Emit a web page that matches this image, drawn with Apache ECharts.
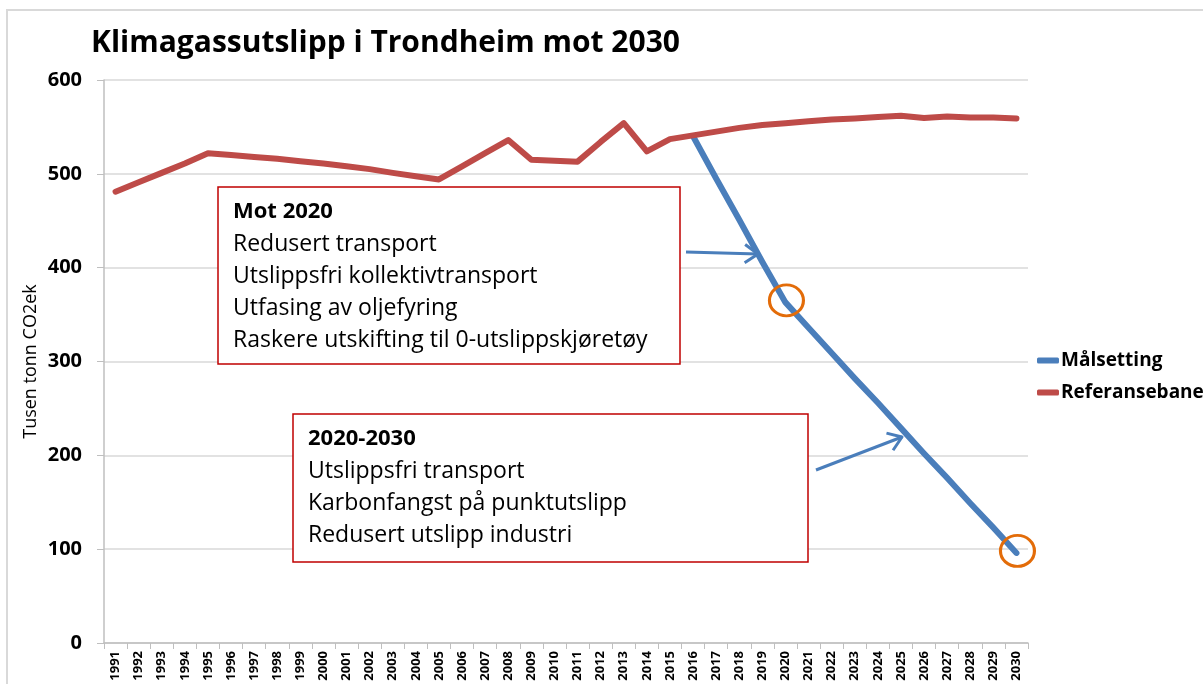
<!DOCTYPE html>
<html>
<head>
<meta charset="utf-8">
<script src="https://cdn.jsdelivr.net/npm/echarts@6/dist/echarts.min.js"></script>
<style>
  html, body { margin: 0; padding: 0; background: #fff; }
  #chart { width: 1203px; height: 684px; }
</style>
</head>
<body>
<div id="chart"></div>
<script>
// år 1991-2030
var years = [];
for (var y = 1991; y <= 2030; y++) years.push(String(y));

// Referansebane (tusen tonn CO2ek)
var referanse = [
  481, 491, 501, 511, 522, 520, 518, 516, 513.5, 511,
  508, 505, 501, 497.5, 494, 508, 522, 536, 515, 514,
  513, 534, 554, 524, 537, 541, 545, 549, 552, 554,
  556, 558, 559, 560.5, 562, 559.5, 561, 560, 560, 559
];

// Målsetting, starter i 2016
var malsetting = [
  null, null, null, null, null, null, null, null, null, null,
  null, null, null, null, null, null, null, null, null, null,
  null, null, null, null, null, 540, 495, 451, 406, 363,
  336, 309, 282, 256, 229, 202, 176, 149, 123, 96
];

var yTicks = [0, 100, 200, 300, 400, 500, 600];

var box1 = ["Redusert transport", "Utslippsfri kollektivtransport", "Utfasing av oljefyring", "Raskere utskifting til 0-utslippskjøretøy"];
var box2 = ["Utslippsfri transport", "Karbonfangst på punktutslipp", "Redusert utslipp industri"];

var font = "'Open Sans', 'Noto Sans', sans-serif";
var blue = "#4a7ebb";
var red = "#be4b48";
var orange = "#e36c09";

// pil med åpen spiss
function arrow(x1, y1, x2, y2) {
  var dx = x2 - x1, dy = y2 - y1;
  var len = Math.sqrt(dx * dx + dy * dy);
  var ax = -dx / len, ay = -dy / len;
  var t = 35 * Math.PI / 180, s = 16;
  var w1 = [x2 + s * (ax * Math.cos(t) - ay * Math.sin(t)), y2 + s * (ax * Math.sin(t) + ay * Math.cos(t))];
  var w2 = [x2 + s * (ax * Math.cos(t) + ay * Math.sin(t)), y2 + s * (-ax * Math.sin(t) + ay * Math.cos(t))];
  return {
    type: "group",
    children: [
      { type: "polyline", z: 110, shape: { points: [[x1, y1], [x2, y2]] }, style: { stroke: blue, lineWidth: 3, fill: null } },
      { type: "polyline", z: 110, shape: { points: [w1, [x2, y2], w2] }, style: { stroke: blue, lineWidth: 3, fill: null, lineJoin: "round" } }
    ]
  };
}

function textBox(x, y, w, h, header, lines) {
  var children = [
    { type: "rect", z: 100, shape: { x: x, y: y, width: w, height: h }, style: { fill: "#fff", stroke: "#c00000", lineWidth: 1.5 } },
    { type: "text", z: 101, x: x + 15, y: y + 25, style: { text: header, font: "bold 22px " + font, fill: "#000", textVerticalAlign: "middle" } }
  ];
  lines.forEach(function (l, i) {
    children.push({ type: "text", z: 101, x: x + 15, y: y + 57 + i * 32.3, style: { text: l, font: "23px " + font, fill: "#000", textVerticalAlign: "middle" } });
  });
  return { type: "group", children: children };
}

var chart = echarts.init(document.getElementById("chart"));
var option = {
  animation: false,
  title: {
    text: "Klimagassutslipp i Trondheim mot 2030",
    left: 86,
    top: 23,
    textStyle: { fontFamily: font, fontSize: 30, fontWeight: "bold", color: "#000" }
  },
  legend: {
    orient: "vertical",
    left: 1032,
    top: 346,
    itemGap: 13,
    itemWidth: 22,
    itemHeight: 6,
    icon: "roundRect",
    textStyle: { fontFamily: font, fontSize: 19, fontWeight: "bold", color: "#000", padding: [0, 0, 0, -3] },
    data: ["Målsetting", "Referansebane"]
  },
  grid: { left: 104, right: 175, top: 80, bottom: 41, containLabel: false },
  xAxis: {
    type: "category",
    data: years,
    boundaryGap: true,
    axisLine: { lineStyle: { color: "#bfbfbf", width: 1.5 } },
    axisTick: { show: true, length: 6, lineStyle: { color: "#bfbfbf" } },
    axisLabel: { rotate: 90, margin: 8, interval: 0, fontFamily: font, fontSize: 13, fontWeight: "bold", color: "#000" }
  },
  yAxis: {
    type: "value",
    min: yTicks[0],
    max: yTicks[yTicks.length - 1],
    interval: 100,
    name: "Tusen tonn CO2ek",
    nameLocation: "middle",
    nameRotate: 90,
    nameGap: 64,
    nameMoveOverlap: false,
    nameTextStyle: { fontFamily: font, fontSize: 18, color: "#000" },
    axisLine: { show: true, lineStyle: { color: "#bfbfbf", width: 1.5 } },
    axisTick: { show: true, length: 7, lineStyle: { color: "#bfbfbf" } },
    axisLabel: { margin: 22, fontFamily: font, fontSize: 20, fontWeight: "bold", color: "#000" },
    splitLine: { lineStyle: { color: "#d9d9d9", width: 1.5 } }
  },
  series: [
    {
      name: "Målsetting",
      type: "line",
      data: malsetting,
      symbol: "none",
      color: blue,
      lineStyle: { width: 6, color: blue, cap: "round", join: "round" },
      markPoint: {
        symbol: "circle",
        symbolSize: [34, 31],
        symbolOffset: [1, -2],
        silent: true,
        label: { show: false },
        itemStyle: { color: "rgba(0,0,0,0)", borderColor: orange, borderWidth: 3 },
        data: [
          { coord: ["2020", malsetting[29]] },
          { coord: ["2030", malsetting[39]] }
        ]
      },
      z: 3
    },
    {
      name: "Referansebane",
      type: "line",
      data: referanse,
      symbol: "none",
      color: red,
      lineStyle: { width: 6, color: red, cap: "round", join: "round" },
      z: 4
    }
  ],
  graphic: [
    { type: "rect", z: -10, shape: { x: 7, y: 10, width: 1300, height: 800 }, style: { fill: null, stroke: "#d9d9d9", lineWidth: 2 } },
    textBox(218, 187, 462, 177, "Mot 2020", box1),
    textBox(293, 414, 515, 148, "2020-2030", box2),
    arrow(686, 252, 758, 254),
    arrow(816, 470, 902, 437)
  ]
};
chart.setOption(option);
</script>
</body>
</html>
